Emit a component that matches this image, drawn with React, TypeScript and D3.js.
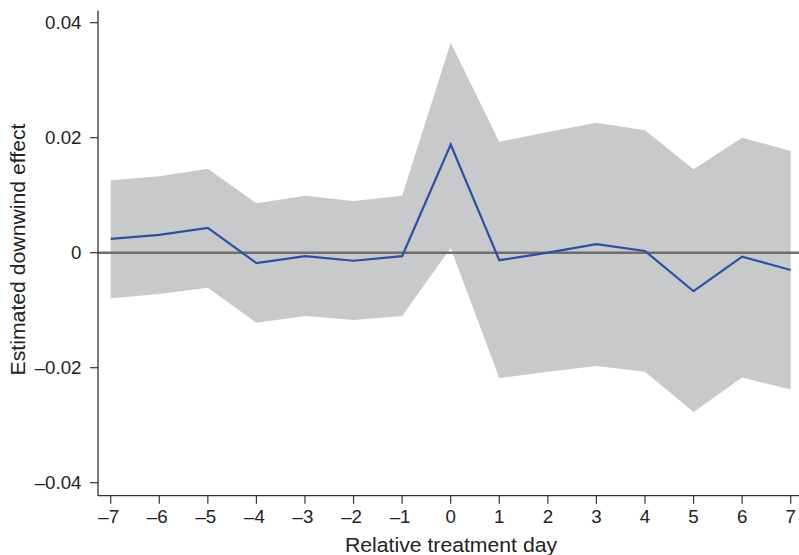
import React from "react";
import * as d3 from "d3";

const days = [-7, -6, -5, -4, -3, -2, -1, 0, 1, 2, 3, 4, 5, 6, 7];
const estimate = [0.0024, 0.0031, 0.0043, -0.0018, -0.0006, -0.0014, -0.0006, 0.0188, -0.0013, 0.0, 0.0015, 0.0003, -0.0067, -0.0007, -0.003];
const upper = [0.0126, 0.0133, 0.0146, 0.0086, 0.0099, 0.009, 0.0099, 0.0365, 0.0193, 0.021, 0.0226, 0.0213, 0.0145, 0.02, 0.0177];
const lower = [-0.0079, -0.0072, -0.0061, -0.0122, -0.011, -0.0117, -0.011, 0.0008, -0.0218, -0.0207, -0.0197, -0.0207, -0.0277, -0.0217, -0.0238];
const yTicks = [-0.04, -0.02, 0, 0.02, 0.04];
const xLabel = "Relative treatment day";
const yLabel = "Estimated downwind effect";

const fmtNum = (v: number) => {
  const s = v === 0 ? "0" : Number.isInteger(v) ? String(Math.abs(v)) : Math.abs(v).toFixed(2);
  return v < 0 ? "\u2013" + s : s;
};

export default function App() {
  const W = 799, H = 555;
  const x = d3.scaleLinear().domain([-7, 7]).range([110.7, 790.7]);
  const y = d3.scaleLinear().domain([-0.04, 0.04]).range([482.7, 22.7]);
  const axisX = 98;
  const axisY = 495.7;
  const font = "'Liberation Sans', Arial, Helvetica, sans-serif";

  const area = d3
    .area<number>()
    .x((_, i) => x(days[i]))
    .y0((_, i) => y(lower[i]))
    .y1((_, i) => y(upper[i]));
  const line = d3
    .line<number>()
    .x((_, i) => x(days[i]))
    .y((d) => y(d));

  return (
    <svg width={W} height={H} style={{ position: "fixed", left: 0, top: 0, background: "#fff" }} fontFamily={font}>
      <path d={area(days) || ""} fill="#c8c9cb" stroke="none" />
      <line x1={axisX} x2={W} y1={y(0)} y2={y(0)} stroke="#6f6f6f" strokeWidth={2.5} />
      <path d={line(estimate) || ""} fill="none" stroke="#2f4ea3" strokeWidth={2.2} strokeLinejoin="miter" />
      <line x1={axisX} x2={axisX} y1={10.5} y2={axisY} stroke="#333" strokeWidth={1.3} />
      <line x1={axisX} x2={W} y1={axisY} y2={axisY} stroke="#333" strokeWidth={1.3} />
      {yTicks.map((t) => (
        <g key={"y" + t}>
          <line x1={axisX - 8} x2={axisX} y1={y(t)} y2={y(t)} stroke="#333" strokeWidth={1.2} />
          <text transform={`translate(${axisX - 16.5},${y(t)}) scale(1.07,1)`} dy="0.36em" textAnchor="end" fontSize={17.5} fill="#222">
            {fmtNum(t)}
          </text>
        </g>
      ))}
      {days.map((d) => (
        <g key={"x" + d}>
          <line x1={x(d)} x2={x(d)} y1={axisY} y2={axisY + 8} stroke="#333" strokeWidth={1.2} />
          <text transform={`translate(${x(d) - (d < 0 ? 2 : 0)},523.3) scale(1.07,1)`} textAnchor="middle" fontSize={17.5} fill="#222">
            {fmtNum(d)}
          </text>
        </g>
      ))}
      <text transform="translate(451,551.5) scale(1.1,1)" textAnchor="middle" fontSize={19.3} fill="#222">
        {xLabel}
      </text>
      <text transform="translate(25,249.5) rotate(-90) scale(1.1,1)" textAnchor="middle" fontSize={19.3} fill="#222">
        {yLabel}
      </text>
    </svg>
  );
}
